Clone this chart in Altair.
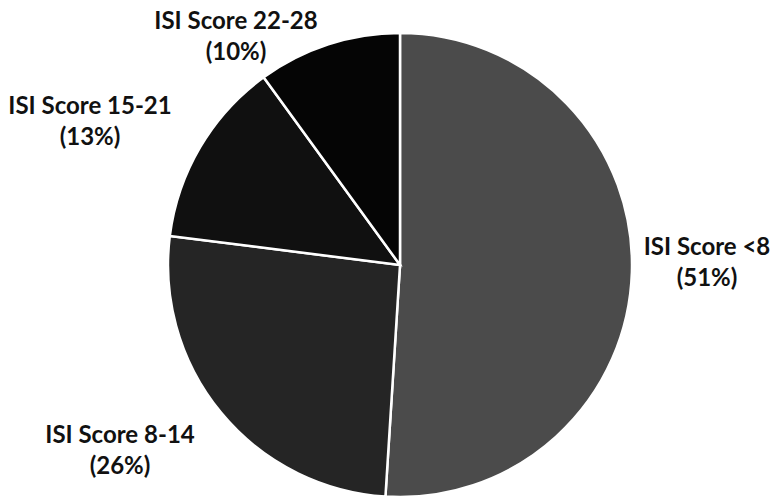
import altair as alt
import pandas as pd

categories = ["ISI Score <8", "ISI Score 8-14", "ISI Score 15-21", "ISI Score 22-28"]
percents = [51, 26, 13, 10]
slice_colors = ["#4b4b4b", "#252525", "#101010", "#050505"]

# label top edges and centres (page pixel coordinates)
label_x = [707, 120, 90, 236]
label_top = [236, 424, 95, 10]

df = pd.DataFrame({
    "category": categories,
    "pct": percents,
    "order": list(range(len(categories))),
})
df["label"] = [f"{c}\n({p}%)" for c, p in zip(categories, percents)]

CX, CY, R = 392, 257, 232

pie = alt.Chart(df).mark_arc(
    outerRadius=R, stroke="white", strokeWidth=2.5
).encode(
    theta=alt.Theta("pct:Q", stack=True),
    order=alt.Order("order:Q"),
    color=alt.Color("category:N", scale=alt.Scale(domain=categories, range=slice_colors), legend=None),
    x=alt.value(CX),
    y=alt.value(CY),
)

layers = [pie]
for i, cat in enumerate(categories):
    t = alt.Chart(df).transform_filter(alt.datum.category == cat).mark_text(
        font="Lato", fontWeight="bold", fontSize=24, lineHeight=31,
        lineBreak="\n", align="center", baseline="top", color="#111111"
    ).encode(
        text="label:N",
        x=alt.value(label_x[i] - 8),
        y=alt.value(label_top[i] - 8),
    )
    layers.append(t)

chart = alt.layer(*layers).properties(
    width=764, height=489, padding=0, autosize=alt.AutoSizeParams(type="none")
).configure_view(stroke=None)

chart.save("out.html", embed_options={"renderer": "svg", "actions": False})
